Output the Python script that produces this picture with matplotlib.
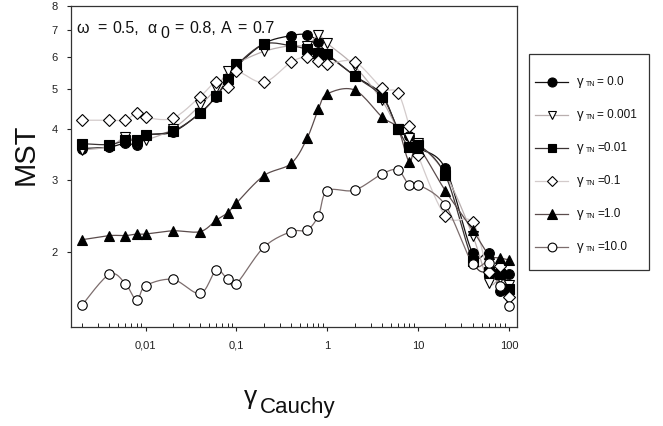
import numpy as np
import matplotlib.pyplot as plt
from matplotlib.ticker import LogLocator, NullLocator, NullFormatter
from matplotlib.patches import Rectangle
from matplotlib.lines import Line2D

plt.rcParams['font.family'] = ['Liberation Sans', 'DejaVu Sans']

# x values (gamma Cauchy), shared by all series
gamma_cauchy = [0.002, 0.004, 0.006, 0.008, 0.01, 0.02, 0.04, 0.06, 0.08, 0.1,
                0.2, 0.4, 0.6, 0.8, 1, 2, 4, 6, 8, 10, 20, 40, 60, 80, 100]

# MST, one list per gamma_TN
mst_tn_0 = [3.58, 3.61, 3.69, 3.66, 3.86, 3.93, 4.38, 4.80, 5.27, 5.68,
            6.47, 6.77, 6.80, 6.54, 6.10, 5.40, 4.85, 4.00, 3.85, 3.60,
            3.20, 1.98, 1.98, 1.60, 1.76]
mst_tn_0001 = [3.55, 3.62, 3.82, 3.72, 3.75, 4.00, 4.57, 5.03, 5.53, 5.78,
               6.19, 6.40, 6.40, 6.78, 6.48, 5.70, 4.70, 4.00, 3.80, 3.69,
               3.10, 2.19, 1.68, 1.72, 1.66]
mst_tn_001 = [3.68, 3.66, 3.75, 3.76, 3.86, 3.95, 4.37, 4.82, 5.30, 5.72,
              6.45, 6.39, 6.27, 6.15, 6.09, 5.39, 4.80, 4.00, 3.61, 3.66,
              3.08, 1.90, 1.78, 1.76, 1.62]
mst_tn_01 = [4.20, 4.20, 4.20, 4.38, 4.27, 4.25, 4.80, 5.22, 5.07, 5.53,
             5.20, 5.83, 6.00, 5.88, 5.77, 5.84, 5.04, 4.90, 4.07, 3.45,
             2.45, 2.36, 1.78, 1.84, 1.55]
mst_tn_1 = [2.14, 2.19, 2.19, 2.21, 2.21, 2.25, 2.24, 2.39, 2.49, 2.63,
            3.07, 3.29, 3.79, 4.47, 4.87, 4.98, 4.28, 4.00, 3.32, 3.60,
            2.82, 2.26, 1.97, 1.93, 1.91]
mst_tn_10 = [1.48, 1.76, 1.67, 1.52, 1.65, 1.71, 1.58, 1.80, 1.71, 1.67,
             2.05, 2.24, 2.26, 2.45, 2.82, 2.83, 3.10, 3.17, 2.91, 2.92,
             2.60, 1.87, 1.88, 1.65, 1.47]

legend_labels = ['= 0.0', '= 0.001', '=0.01', '=0.1', '=1.0', '=10.0']
x_ticks = [0.01, 0.1, 1, 10, 100]
x_tick_labels = ['0,01', '0,1', '1', '10', '100']
y_ticks = [2, 3, 4, 5, 6, 7, 8]

W, H = 663, 426


def smooth(x, y, n=14):
    # Catmull-Rom curve through the points, in log-log space
    pts = np.column_stack([np.log10(x), np.log10(y)])
    p = np.vstack([pts[0], pts, pts[-1]])
    t = np.linspace(0, 1, n, endpoint=False)[:, None]
    out = []
    for i in range(1, len(p) - 2):
        p0, p1, p2, p3 = p[i - 1], p[i], p[i + 1], p[i + 2]
        out.append(0.5 * (2 * p1 + (p2 - p0) * t
                          + (2 * p0 - 5 * p1 + 4 * p2 - p3) * t ** 2
                          + (-p0 + 3 * p1 - 3 * p2 + p3) * t ** 3))
    out.append(pts[-1:])
    out = np.vstack(out)
    return 10 ** out[:, 0], 10 ** out[:, 1]


styles = [
    (mst_tn_0, '#151212', 'o', 'black', 7.0),
    (mst_tn_0001, '#b9afaf', 'v', 'white', 6.8),
    (mst_tn_001, '#3b3333', 's', 'black', 6.5),
    (mst_tn_01, '#d3cbcb', 'D', 'white', 6.0),
    (mst_tn_1, '#5b4c4c', '^', 'black', 7.0),
    (mst_tn_10, '#7c6d6d', 'o', 'white', 6.8),
]

fig = plt.figure(figsize=(W / 100, H / 100), dpi=100)
ax = fig.add_axes([70.7 / W, 1 - 326.7 / H, (516.7 - 70.7) / W, (326.7 - 6) / H])

for vals, lc, mk, fc, ms in styles:
    sx, sy = smooth(gamma_cauchy, vals)
    ax.plot(sx, sy, color=lc, lw=0.9, zorder=2)
    ax.plot(gamma_cauchy, vals, ls='none', marker=mk, ms=ms, mfc=fc,
            mec='black', mew=0.8, zorder=3)

ax.set_xscale('log')
ax.set_yscale('log')
ax.set_xlim(0.0015, 122)
ax.set_ylim(1.31, 8)

ax.set_xticks(x_ticks, x_tick_labels)
ax.xaxis.set_minor_locator(LogLocator(base=10, subs=np.arange(2, 10)))
ax.xaxis.set_minor_formatter(NullFormatter())
ax.set_yticks(y_ticks, [str(v) for v in y_ticks])
ax.yaxis.set_minor_locator(NullLocator())

ax.tick_params(axis='both', which='major', direction='out', length=3,
               width=0.8, labelsize=8, colors='#222222')
ax.tick_params(axis='x', which='minor', direction='in', length=3, width=0.7,
               colors='#222222')
ax.tick_params(axis='x', which='major', pad=7)
ax.tick_params(axis='y', which='major', pad=6.5)
for s in ax.spines.values():
    s.set_linewidth(0.9)
    s.set_color('#333333')


def fx(px):
    return px / W


def fy(py):
    return 1 - py / H


# parameter annotation, placed piece by piece
tkw = dict(fontsize=11.5, color='#111111', va='baseline', ha='left')
for txt, px, py in [('ω', 76, 33), ('=', 97, 33), ('0.5,', 112, 33),
                    ('α', 147, 33), ('0', 160, 38), ('=', 174, 33),
                    ('0.8,', 189, 33), ('A', 221, 33), ('=', 237, 33),
                    ('0.7', 252, 33)]:
    fig.text(fx(px), fy(py), txt, **tkw)

# axis labels
fig.text(fx(26), fy(154), 'MST', fontsize=21, rotation=90, ha='center',
         va='center', color='#111111')
fig.text(fx(244), fy(404), 'γ', fontsize=19, ha='left', va='baseline',
         color='#111111')
fig.text(fx(260), fy(413), 'Cauchy', fontsize=16, ha='left', va='baseline',
         color='#111111')

# legend box, drawn in figure pixels
fig.patches.append(Rectangle((fx(529), fy(270)), (649 - 529) / W, (270 - 54) / H,
                             transform=fig.transFigure, fill=False,
                             ec='#333333', lw=0.9))
for k, ((vals, lc, mk, fc, ms), lab) in enumerate(zip(styles, legend_labels)):
    yy = fy(82 + k * 33)
    fig.lines.append(Line2D([fx(535), fx(568)], [yy, yy], color=lc, lw=0.9,
                            transform=fig.transFigure))
    fig.lines.append(Line2D([fx(551.5)], [yy], marker=mk, ms=ms - 0.5, mfc=fc,
                            mec='black', mew=0.8, ls='none',
                            transform=fig.transFigure))
    fig.text(fx(577), yy, 'γ', fontsize=9.5, va='center', ha='left',
             color='#111111')
    fig.text(fx(586), yy - 2.5 / H, 'TN', fontsize=5, va='center', ha='left',
             color='#111111')
    fig.text(fx(597), yy, lab, fontsize=8.5, va='center', ha='left',
             color='#111111')

fig.savefig('out.png', dpi=100)
